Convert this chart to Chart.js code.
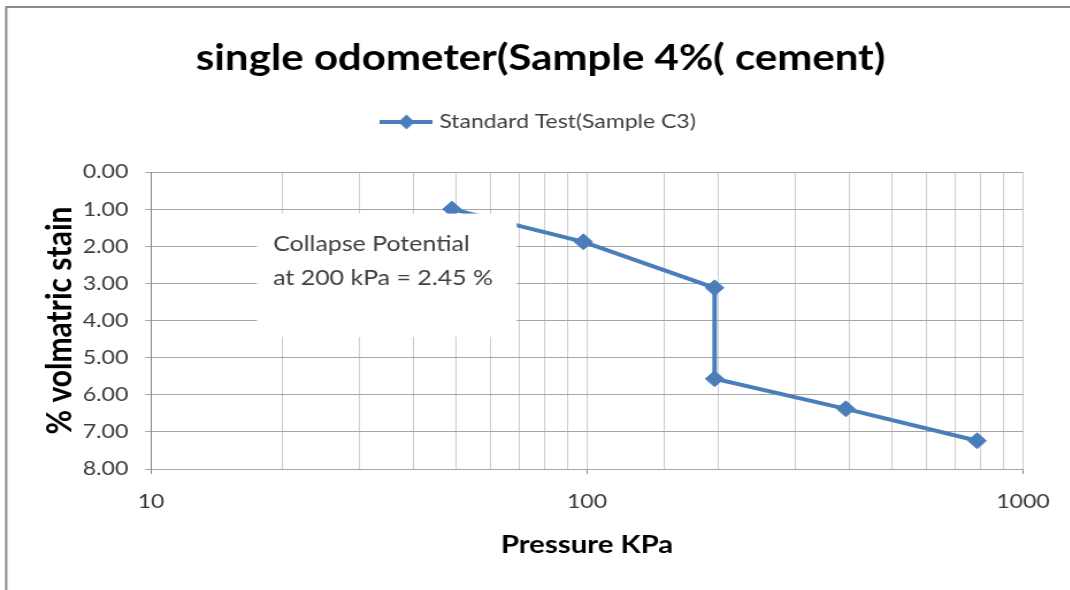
<!DOCTYPE html>
<html><head><meta charset="utf-8">
<script src="https://cdn.jsdelivr.net/npm/chart.js@4.4.1/dist/chart.umd.min.js"></script>
<style>
html,body{margin:0;padding:0;background:#fff;overflow:hidden;width:1070px;height:590px}
#wrap{width:939px;height:590px;transform:scaleX(1.15016);transform-origin:0 0;}
canvas{display:block}
</style></head><body>
<div id="wrap"><canvas id="c" width="939" height="590" style="width:939px;height:590px"></canvas></div>
<script>
// ---- data ----
const chartTitle = 'single odometer(Sample 4%( cement)';
const seriesName = 'Standard Test(Sample C3)';
const xAxisTitle = 'Pressure KPa';
const yAxisTitle = '% volmatric stain';
const pressureKPa = [49, 98.1, 196.2, 196.2, 392.4, 784.8];
const volumetricStrain = [1.00, 1.88, 3.12, 5.57, 6.38, 7.24];
const xTickLabels = [10, 100, 1000];
const yTickValues = [0, 1, 2, 3, 4, 5, 6, 7, 8];
const annotationLines = ['Collapse Potential', 'at 200 kPa = 2.45 %'];
const annotationBoxX = [17.5, 69];
const annotationBoxY = [1.12, 4.44];

const BLUE = '#4a7ebb';
Chart.defaults.font.family = 'Lato, "Open Sans", sans-serif';

// legend icon: line with diamond marker
const legendIcon = document.createElement('canvas');
legendIcon.width = 46; legendIcon.height = 18;
(function(){
  const g = legendIcon.getContext('2d');
  g.strokeStyle = BLUE; g.lineWidth = 4;
  g.beginPath(); g.moveTo(0, 9); g.lineTo(46, 9); g.stroke();
  g.fillStyle = BLUE;
  g.beginPath(); g.moveTo(23, 1.5); g.lineTo(30, 9); g.lineTo(23, 16.5); g.lineTo(16, 9); g.closePath(); g.fill();
})();

const framePlugin = {
  id: 'frame',
  beforeDraw(chart) {
    const ctx = chart.ctx;
    ctx.save();
    ctx.fillStyle = '#fff';
    ctx.fillRect(0, 0, chart.width, chart.height);
    ctx.strokeStyle = '#8a8a8a';
    ctx.lineWidth = 2;
    ctx.beginPath();
    ctx.moveTo(5.4, chart.height);
    ctx.lineTo(5.4, 7);
    ctx.lineTo(chart.width, 7);
    ctx.stroke();
    ctx.restore();
  }
};

const annotationPlugin = {
  id: 'annotationBox',
  afterDatasetsDraw(chart) {
    const ctx = chart.ctx, xs = chart.scales.x, ys = chart.scales.y;
    const x0 = xs.getPixelForValue(annotationBoxX[0]);
    const x1 = xs.getPixelForValue(annotationBoxX[1]);
    const y0 = ys.getPixelForValue(annotationBoxY[0]);
    const y1 = ys.getPixelForValue(annotationBoxY[1]);
    ctx.save();
    ctx.fillStyle = '#fff';
    ctx.fillRect(x0, y0, x1 - x0, y1 - y0);
    ctx.fillStyle = '#404040';
    ctx.font = '21.7px Lato, "Open Sans", sans-serif';
    ctx.textAlign = 'left';
    ctx.textBaseline = 'middle';
    annotationLines.forEach((t, i) => ctx.fillText(t, x0 + 14, y0 + 30 + i * 34));
    ctx.restore();
  }
};

new Chart(document.getElementById('c'), {
  type: 'line',
  data: {
    datasets: [{
      label: seriesName,
      data: pressureKPa.map((p, i) => ({ x: p, y: volumetricStrain[i] })),
      borderColor: BLUE,
      backgroundColor: BLUE,
      borderWidth: 4,
      pointStyle: 'rectRot',
      pointRadius: 8,
      pointBorderWidth: 1,
      pointBackgroundColor: BLUE,
      pointBorderColor: BLUE,
      tension: 0,
      fill: false
    }]
  },
  options: {
    responsive: false,
    animation: false,
    devicePixelRatio: 1,
    layout: { padding: { left: 50.6, right: 49.6, top: 0, bottom: 0 } },
    plugins: {
      title: {
        display: true, text: chartTitle, color: '#000',
        font: { size: 36.5, weight: 'bold' },
        padding: { top: 36.1, bottom: 22.1 }
      },
      subtitle: {
        display: true, text: '', weight: 500,
        font: { size: 1 }, padding: { top: 28.8, bottom: 0 }
      },
      legend: {
        display: true, position: 'top',
        labels: {
          usePointStyle: true, pointStyleWidth: 37, boxHeight: 18,
          padding: 10, color: '#404040', font: { size: 20 },
          generateLabels(chart) {
            const items = Chart.defaults.plugins.legend.labels.generateLabels(chart);
            items.forEach(it => { it.pointStyle = legendIcon; });
            return items;
          }
        }
      },
      tooltip: { enabled: false }
    },
    scales: {
      x: {
        type: 'logarithmic', position: 'bottom', min: 10, max: 1000,
        afterFit(scale) { scale.height = 121; },
        grid: {
          color: '#cdcdcd', lineWidth: 1, tickLength: 5,
          tickColor: (c) => (c.tick && xTickLabels.includes(c.tick.value)) ? '#8a8a8a' : 'rgba(0,0,0,0)'
        },
        border: { display: true, color: '#a6a6a6' },
        ticks: {
          autoSkip: false, maxRotation: 0, color: '#3a3a3a', padding: 15.8,
          font: { size: 20 },
          callback: (v) => xTickLabels.includes(v) ? String(v) : ''
        },
        title: {
          display: true, text: xAxisTitle, color: '#000',
          font: { size: 25.5, weight: 'bold' }, padding: { top: 0, bottom: 29.7 }
        }
      },
      y: {
        reverse: true, min: 0, max: 8,
        afterFit(scale) { scale.width = 80.7; },
        afterBuildTicks(scale) { scale.ticks = yTickValues.map(v => ({ value: v })); },
        grid: { color: '#a6a6a6', lineWidth: 1, tickLength: 5, tickColor: '#a6a6a6' },
        border: { display: true, color: '#868686' },
        ticks: {
          color: '#3a3a3a', padding: 14.8, font: { size: 20 },
          callback: (v) => Number(v).toFixed(2)
        },
        title: {
          display: true, text: yAxisTitle, color: '#000',
          font: { size: 30, weight: 'bold' }, padding: { top: -16.4, bottom: 0 }
        }
      }
    }
  },
  plugins: [framePlugin, annotationPlugin]
});
</script>
</body></html>
